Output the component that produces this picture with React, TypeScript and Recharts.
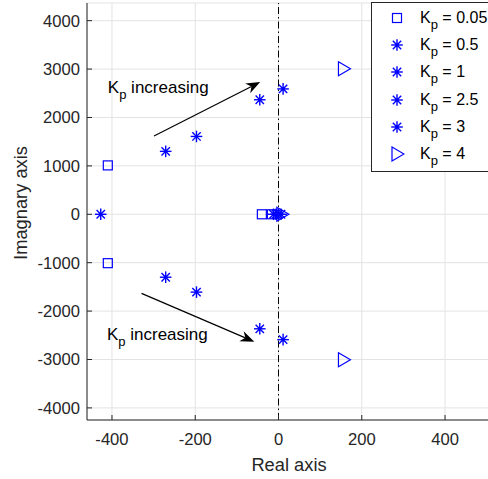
import React from "react";
import {
  ScatterChart,
  Scatter,
  XAxis,
  YAxis,
  CartesianGrid,
  ReferenceLine,
  ReferenceDot,
} from "recharts";

// pole locations, one array per gain
const kp005 = [
  { x: -410, y: 1010 },
  { x: -410, y: -1010 },
  { x: -40, y: 0 },
  { x: -16, y: 0 },
];
const kp05 = [
  { x: -271, y: 1300 },
  { x: -271, y: -1300 },
  { x: -427, y: 0 },
  { x: -12, y: 0 },
];
const kp1 = [
  { x: -197, y: 1608 },
  { x: -197, y: -1608 },
  { x: -6, y: 0 },
];
const kp25 = [
  { x: -45, y: 2366 },
  { x: -45, y: -2366 },
  { x: 0, y: 0 },
];
const kp3 = [
  { x: 11, y: 2590 },
  { x: 11, y: -2590 },
  { x: 6, y: 0 },
];
const kp4 = [
  { x: 156, y: 3006 },
  { x: 156, y: -3006 },
  { x: 8, y: 0 },
];

const legendLabels = ["0.05", "0.5", "1", "2.5", "3", "4"];
const legendMarkers = ["square", "star", "star", "star", "star", "triangle"];

const xTicks = [-400, -200, 0, 200, 400];
const yTicks = [-4000, -3000, -2000, -1000, 0, 1000, 2000, 3000, 4000];
const xDomain = [-460, 520];
const yDomain = [-4250, 4365];

// annotation arrows: [from, to] in data units
const arrowSegments = [
  [{ x: -299, y: 1617 }, { x: -44, y: 2733 }],
  [{ x: -329, y: -1633 }, { x: -58, y: -2633 }],
];
const annotationSpots = [
  { x: -410, y: 2505 },
  { x: -412, y: -2598 },
];

const BLUE = "#0000ff";
const AXIS = "#262626";
const FONT = "'Liberation Sans', Arial, Helvetica, sans-serif";

const Star = (props: any) => {
  const { cx, cy } = props;
  const r = 5.8;
  const d = r * 0.72;
  return (
    <g stroke={BLUE} strokeWidth={1.4}>
      <line x1={cx - r} y1={cy} x2={cx + r} y2={cy} />
      <line x1={cx} y1={cy - r} x2={cx} y2={cy + r} />
      <line x1={cx - d} y1={cy - d} x2={cx + d} y2={cy + d} />
      <line x1={cx - d} y1={cy + d} x2={cx + d} y2={cy - d} />
      <circle cx={cx} cy={cy} r={1.8} fill={BLUE} stroke="none" />
    </g>
  );
};

const Square = (props: any) => {
  const { cx, cy } = props;
  return (
    <rect x={cx - 4.5} y={cy - 4.5} width={9} height={9} fill="none" stroke={BLUE} strokeWidth={1.2} />
  );
};

const Triangle = (props: any) => {
  const { cx, cy } = props;
  return (
    <polygon
      points={`${cx - 5},${cy - 7} ${cx + 7},${cy} ${cx - 5},${cy + 7}`}
      fill="none"
      stroke={BLUE}
      strokeWidth={1.2}
    />
  );
};

const Arrow = (props: any) => {
  const { x1, y1, x2, y2 } = props;
  const a = Math.atan2(y2 - y1, x2 - x1);
  const L = 14;
  const W = 5.5;
  const bx = x2 - L * Math.cos(a);
  const by = y2 - L * Math.sin(a);
  const nx = -Math.sin(a);
  const ny = Math.cos(a);
  const ix = x2 - L * 0.7 * Math.cos(a);
  const iy = y2 - L * 0.7 * Math.sin(a);
  return (
    <g>
      <line x1={x1} y1={y1} x2={ix} y2={iy} stroke="#000" strokeWidth={1.2} />
      <polygon
        points={`${x2},${y2} ${bx + nx * W},${by + ny * W} ${ix},${iy} ${bx - nx * W},${by - ny * W}`}
        fill="#000"
      />
    </g>
  );
};

const KpText = (props: any) => {
  const { cx, cy } = props;
  return (
    <text x={cx} y={cy} fontFamily={FONT} fontSize={17} fill="#000">
      K
      <tspan fontSize={13} dy={6}>p</tspan>
      <tspan dy={-6}> increasing</tspan>
    </text>
  );
};

const LegendIcon = ({ kind }: { kind: string }) => (
  <svg width={16} height={16} style={{ display: "block" }}>
    {kind === "square" && <Square cx={8} cy={8} />}
    {kind === "star" && <Star cx={8} cy={8} />}
    {kind === "triangle" && <Triangle cx={8} cy={8} />}
  </svg>
);

export default function App() {
  return (
    <div
      style={{
        position: "absolute",
        left: 0,
        top: 0,
        width: 488,
        height: 479,
        overflow: "hidden",
        background: "#fff",
      }}
    >
      <ScatterChart width={500} height={479} margin={{ top: 3, right: 5, bottom: 0, left: 0 }}>
        <CartesianGrid xAxisId="bottom" yAxisId="left" stroke="#e3e3e3" strokeWidth={1} />
        <XAxis
          xAxisId="bottom"
          type="number"
          dataKey="x"
          domain={xDomain}
          ticks={xTicks}
          allowDataOverflow
          height={59}
          stroke={AXIS}
          tickSize={-5}
          tickMargin={18}
          tick={{ fill: AXIS, fontSize: 16.6, fontFamily: FONT }}
          label={() => (
            <text x={289} y={471} textAnchor="middle" fontFamily={FONT} fontSize={18.3} fill={AXIS}>
              Real axis
            </text>
          )}
        />
        <XAxis
          xAxisId="top"
          orientation="top"
          type="number"
          dataKey="x"
          domain={xDomain}
          ticks={xTicks}
          allowDataOverflow
          height={0}
          stroke={AXIS}
          tickSize={-5}
          tick={false}
        />
        <YAxis
          yAxisId="left"
          type="number"
          dataKey="y"
          domain={yDomain}
          ticks={yTicks}
          allowDataOverflow
          width={87}
          stroke={AXIS}
          tickSize={-5}
          tickMargin={12}
          tick={{ fill: AXIS, fontSize: 16.6, fontFamily: FONT }}
          label={() => (
            <text
              x={27}
              y={203}
              transform="rotate(-90 27 203)"
              textAnchor="middle"
              fontFamily={FONT}
              fontSize={18.3}
              fill={AXIS}
            >
              Imagnary axis
            </text>
          )}
        />
        <ReferenceLine
          xAxisId="bottom"
          yAxisId="left"
          x={0}
          stroke="#000"
          strokeWidth={1}
          strokeDasharray="7 3 1.5 3"
        />
        {arrowSegments.map((seg, i) => (
          <ReferenceLine
            key={"arrow" + i}
            xAxisId="bottom"
            yAxisId="left"
            segment={seg}
            shape={Arrow}
          />
        ))}
        {annotationSpots.map((p, i) => (
          <ReferenceDot
            key={"txt" + i}
            xAxisId="bottom"
            yAxisId="left"
            x={p.x}
            y={p.y}
            shape={KpText}
          />
        ))}
        <Scatter xAxisId="bottom" yAxisId="left" data={kp005} shape={Square} isAnimationActive={false} />
        <Scatter xAxisId="bottom" yAxisId="left" data={kp05} shape={Star} isAnimationActive={false} />
        <Scatter xAxisId="bottom" yAxisId="left" data={kp1} shape={Star} isAnimationActive={false} />
        <Scatter xAxisId="bottom" yAxisId="left" data={kp25} shape={Star} isAnimationActive={false} />
        <Scatter xAxisId="bottom" yAxisId="left" data={kp3} shape={Star} isAnimationActive={false} />
        <Scatter xAxisId="bottom" yAxisId="left" data={kp4} shape={Triangle} isAnimationActive={false} />
      </ScatterChart>
      <div
        style={{
          position: "absolute",
          left: 371,
          top: 2,
          width: 130,
          height: 170,
          border: `1px solid ${AXIS}`,
          background: "#fff",
          fontFamily: FONT,
          fontSize: 16,
          color: "#000",
          boxSizing: "border-box",
        }}
      >
        {legendLabels.map((lab, i) => (
          <div
            key={lab}
            style={{
              position: "absolute",
              left: 17,
              top: 6 + i * 27.2,
              height: 18,
              display: "flex",
              alignItems: "center",
              whiteSpace: "nowrap",
            }}
          >
            <LegendIcon kind={legendMarkers[i]} />
            <span style={{ marginLeft: 15 }}>
              K<sub style={{ fontSize: 13, verticalAlign: "-6px", lineHeight: 0 }}>p</sub> = {lab}
            </span>
          </div>
        ))}
      </div>
    </div>
  );
}
